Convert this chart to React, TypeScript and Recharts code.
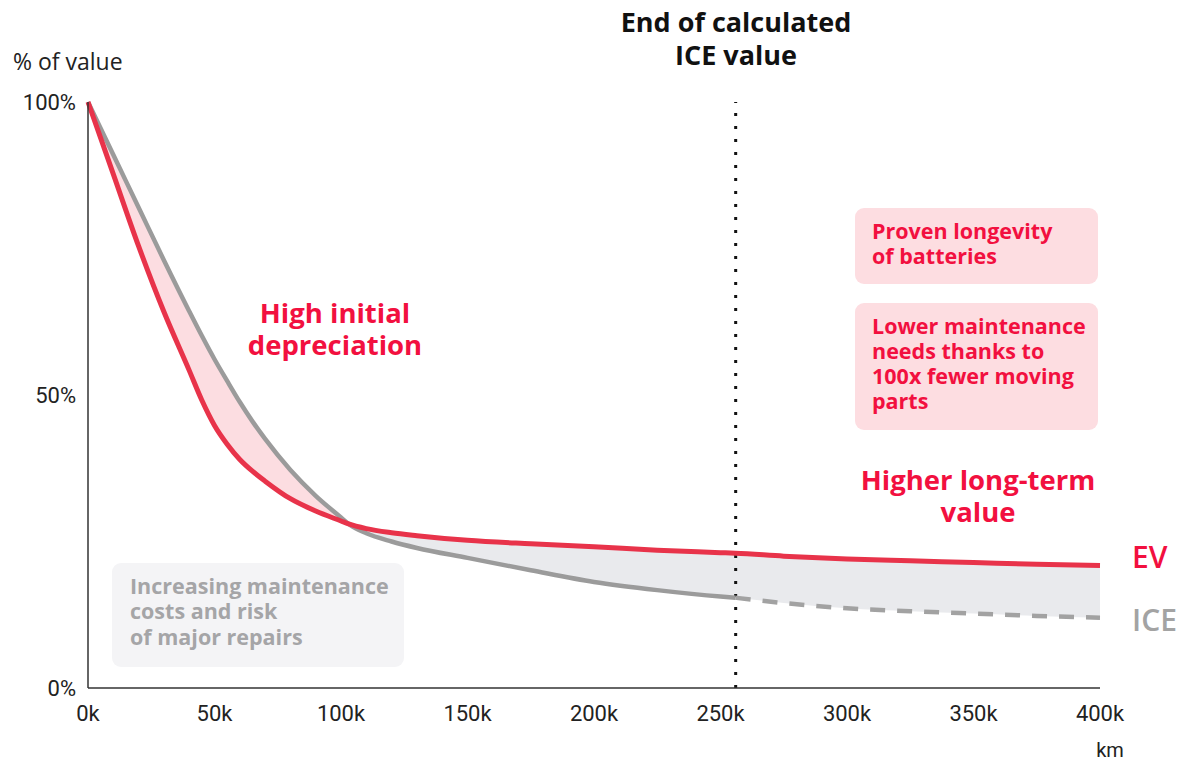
import { ComposedChart, Line, Area, XAxis, YAxis, ReferenceLine } from 'recharts'

// distance driven, in thousands of km
const kms = [0, 10, 20, 30, 40, 45, 50, 55, 60, 65, 70, 80, 90, 100, 103, 110, 120, 130, 150, 175, 200, 225, 250, 256, 275, 300, 325, 350, 375, 400]
// % of value kept
const evValues = [100, 87.7, 75.4, 64.2, 54.2, 49.1, 44.8, 41.6, 39, 37, 35.3, 32.3, 30.2, 28.5, 28, 27.2, 26.5, 26, 25.2, 24.6, 24.1, 23.5, 23.1, 23, 22.5, 22, 21.7, 21.4, 21.1, 20.9]
const iceValues = [100, 91, 82, 73, 64.3, 60.1, 56.1, 52.4, 48.8, 45.5, 42.5, 37.2, 32.8, 29.1, 28, 26.4, 25, 23.9, 22.2, 20.1, 18.1, 16.7, 15.6, 15.4, 14.5, 13.6, 13.1, 12.7, 12.3, 12]

const crossKm = 103
const iceEndKm = 256

const xTicks = [0, 50, 100, 150, 200, 250, 300, 350, 400]
const yTicks = [0, 50, 100]

const RED = '#e8334a'
const TEXT_RED = '#f2103f'
const GREY = '#9b9b9b'

const rows = kms.map((km, i) => {
  const ev = evValues[i]
  const ice = iceValues[i]
  return {
    km,
    ev,
    iceSolid: km <= iceEndKm ? ice : null,
    iceDash: km >= iceEndKm ? ice : null,
    pinkBand: km <= crossKm ? [ev, ice] : null,
    greyBand: km >= crossKm ? [ice, ev] : null,
  }
})

const note = { fontFamily: '"Open Sans", sans-serif', fontWeight: 700 }

export default function App() {
  return (
    <div style={{ position: 'absolute', left: 0, top: 0, width: 1184, height: 764, background: '#fff' }}>
      <ComposedChart width={1184} height={764} data={rows} margin={{ top: 102, right: 84, left: 0, bottom: 36 }}>
        <XAxis
          dataKey="km"
          type="number"
          domain={[0, 400]}
          ticks={xTicks}
          tickFormatter={(v) => `${v}k`}
          tickLine={false}
          tickMargin={11}
          height={40}
          axisLine={{ stroke: '#333', strokeWidth: 1.5 }}
          tick={{ fill: '#222', fontSize: 22, fontFamily: 'Roboto' }}
        />
        <YAxis
          type="number"
          domain={[0, 100]}
          ticks={yTicks}
          tickFormatter={(v) => `${v}%`}
          tickLine={false}
          tickMargin={6}
          width={88}
          axisLine={{ stroke: '#333', strokeWidth: 1.5 }}
          tick={{ fill: '#222', fontSize: 22, fontFamily: 'Roboto' }}
        />
        <Area dataKey="pinkBand" type="monotone" stroke="none" fill="#fcdde1" fillOpacity={1} isAnimationActive={false} />
        <Area dataKey="greyBand" type="monotone" stroke="none" fill="#e9eaed" fillOpacity={1} isAnimationActive={false} />
        <ReferenceLine x={iceEndKm} stroke="#111" strokeWidth={3} strokeDasharray="3 10" />
        <Line dataKey="iceSolid" type="monotone" stroke={GREY} strokeWidth={4.5} dot={false} isAnimationActive={false} />
        <Line dataKey="iceDash" type="monotone" stroke="#a2a2a2" strokeWidth={4.5} strokeDasharray="15 12" dot={false} isAnimationActive={false} />
        <Line dataKey="ev" type="monotone" stroke={RED} strokeWidth={5} dot={false} isAnimationActive={false} />
      </ComposedChart>

      <svg width={1184} height={764} style={{ position: 'absolute', left: 0, top: 0, pointerEvents: 'none' }}>
        <text x={13} y={70} fontFamily='"Open Sans"' fontSize={23} fill="#222">% of value</text>
        <text x={1110} y={757} textAnchor="middle" fontFamily="Roboto" fontSize={20} fill="#222">km</text>

        <text textAnchor="middle" fontSize={27} fill="#111" style={note}>
          <tspan x={736} y={32}>End of calculated</tspan>
          <tspan x={736} y={65}>ICE value</tspan>
        </text>

        <text textAnchor="middle" fontSize={27.5} fill={TEXT_RED} style={note}>
          <tspan x={335} y={323}>High initial</tspan>
          <tspan x={335} y={355}>depreciation</tspan>
        </text>

        <text textAnchor="middle" fontSize={27.5} fill={TEXT_RED} style={note}>
          <tspan x={978} y={490}>Higher long-term</tspan>
          <tspan x={978} y={522}>value</tspan>
        </text>

        <text x={1132} y={568} fontSize={30} fill={TEXT_RED} style={{ ...note, fontWeight: 600 }}>EV</text>
        <text x={1132} y={631} fontSize={30} fill="#a3a3a3" style={{ ...note, fontWeight: 600 }}>ICE</text>

        <rect x={855} y={208} width={243} height={76} rx={9} fill="#fddde1" />
        <text fontSize={21.5} fill={TEXT_RED} style={note}>
          <tspan x={872} y={239}>Proven longevity</tspan>
          <tspan x={872} y={264}>of batteries</tspan>
        </text>

        <rect x={855} y={303} width={243} height={127} rx={9} fill="#fddde1" />
        <text fontSize={21.5} fill={TEXT_RED} style={note}>
          <tspan x={872} y={334}>Lower maintenance</tspan>
          <tspan x={872} y={359}>needs thanks to</tspan>
          <tspan x={872} y={384}>100x fewer moving</tspan>
          <tspan x={872} y={409}>parts</tspan>
        </text>

        <rect x={112} y={563} width={292} height={104} rx={9} fill="#f4f4f6" />
        <text fontSize={21.5} fill="#a5a5a7" style={note}>
          <tspan x={130} y={594}>Increasing maintenance</tspan>
          <tspan x={130} y={619}>costs and risk</tspan>
          <tspan x={130} y={645}>of major repairs</tspan>
        </text>
      </svg>
    </div>
  )
}
